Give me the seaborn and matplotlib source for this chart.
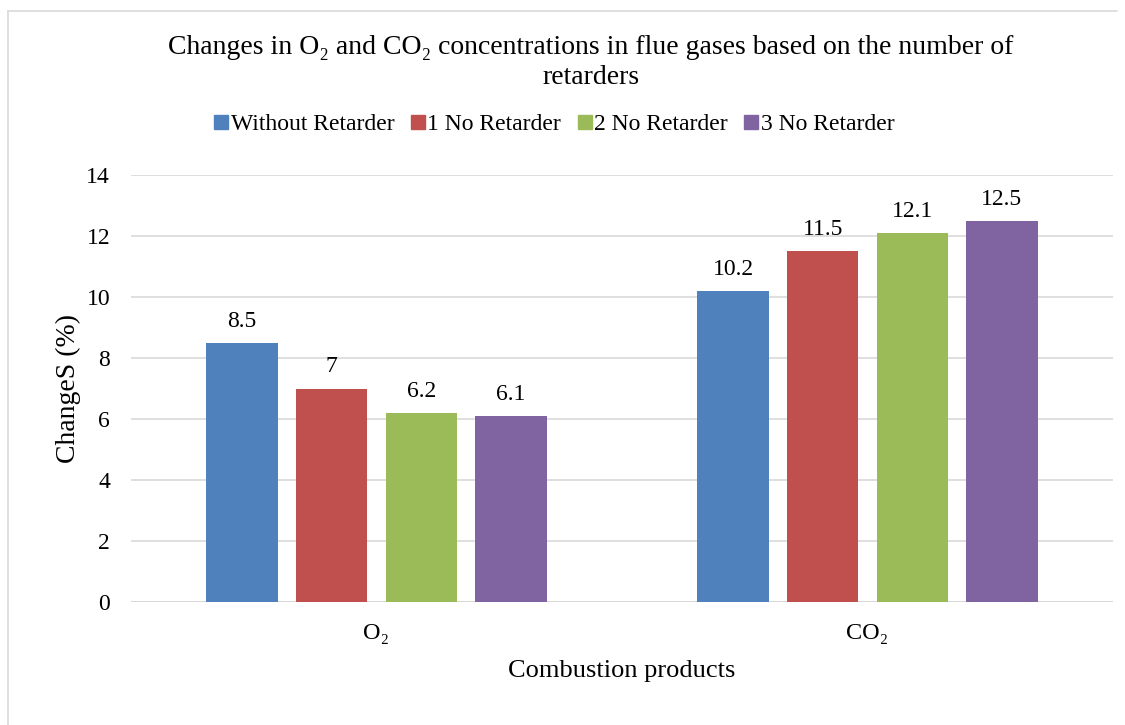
import matplotlib
matplotlib.use("Agg")
import matplotlib.pyplot as plt
import seaborn as sns
import pandas as pd
from matplotlib.lines import Line2D

products = ["O₂", "CO₂"]
series = ["Without Retarder", "1 No Retarder", "2 No Retarder", "3 No Retarder"]
without_retarder = [8.5, 10.2]
one_retarder = [7, 11.5]
two_retarders = [6.2, 12.1]
three_retarders = [6.1, 12.5]
yticks = [0, 2, 4, 6, 8, 10, 12, 14]
colors = ["#4F81BD", "#C0504D", "#9BBB59", "#8064A2"]

values = [without_retarder, one_retarder, two_retarders, three_retarders]
df = pd.DataFrame(
    [(p, s, v[i]) for s, v in zip(series, values) for i, p in enumerate(products)],
    columns=["product", "series", "value"],
)

sns.set_theme(style="white")
plt.rcParams["font.family"] = ["Liberation Serif", "DejaVu Serif"]
plt.rcParams["text.color"] = "black"
plt.rcParams["axes.labelcolor"] = "black"
plt.rcParams["xtick.color"] = "black"
plt.rcParams["ytick.color"] = "black"

fig = plt.figure(figsize=(11.25, 7.25), dpi=100)
ax = fig.add_axes([131 / 1125, 1 - 602 / 725, (1113 - 131) / 1125, (602 - 175) / 725])

sns.barplot(data=df, x="product", y="value", hue="series", hue_order=series,
            palette=colors, width=0.73, ax=ax, legend=False, saturation=1,
            edgecolor="none")

bar_w = 0.145
for patch in ax.patches:
    cx = patch.get_x() + patch.get_width() / 2
    patch.set_x(cx - bar_w / 2)
    patch.set_width(bar_w)

for cont in ax.containers:
    ax.bar_label(cont, labels=[f"{v:g}" for v in cont.datavalues], padding=8,
                 fontsize=17, color="black")

ax.set_xlim(-0.5, 1.5)
ax.set_ylim(0, 14)
ax.set_yticks(yticks)
ax.set_yticklabels([str(t) for t in yticks], fontsize=17)
ax.tick_params(axis="y", length=0, pad=15)
ax.tick_params(axis="x", length=0, pad=15, labelsize=17.5)
ax.yaxis.grid(True, color="#D9D9D9", linewidth=1.2)
ax.set_axisbelow(True)
for s in ax.spines.values():
    s.set_visible(False)
ax.axhline(0, color="#D9D9D9", linewidth=1.4, zorder=0.5)

ax.set_xlabel("Combustion products", fontsize=19, labelpad=12)
ax.set_ylabel("ChangeS (%)", fontsize=20, labelpad=4)

fig.text(0.525, 1 - 48 / 725,
         "Changes in O₂ and CO₂ concentrations in flue gases based on the number of",
         ha="center", va="center", fontsize=20)
fig.text(0.525, 1 - 77 / 725, "retarders", ha="center", va="center", fontsize=20)

handles = [Line2D([], [], marker="s", linestyle="none", markersize=10,
                  markerfacecolor=c, markeredgecolor=c) for c in colors]
fig.legend(handles, series, loc="center", bbox_to_anchor=(553 / 1125, 1 - 124 / 725),
           ncol=4, frameon=False, fontsize=17, handletextpad=0.0,
           columnspacing=0.6, handlelength=0.8)

# chart frame
fig.add_artist(Line2D([8 / 1125, 8 / 1125], [1 - 11 / 725, 0], transform=fig.transFigure,
                      color="#D9D9D9", linewidth=1.2))
fig.add_artist(Line2D([8 / 1125, 1117 / 1125], [1 - 11 / 725, 1 - 11 / 725],
                      transform=fig.transFigure, color="#D9D9D9", linewidth=1.2))

fig.savefig("out.png", dpi=100, facecolor="white")
